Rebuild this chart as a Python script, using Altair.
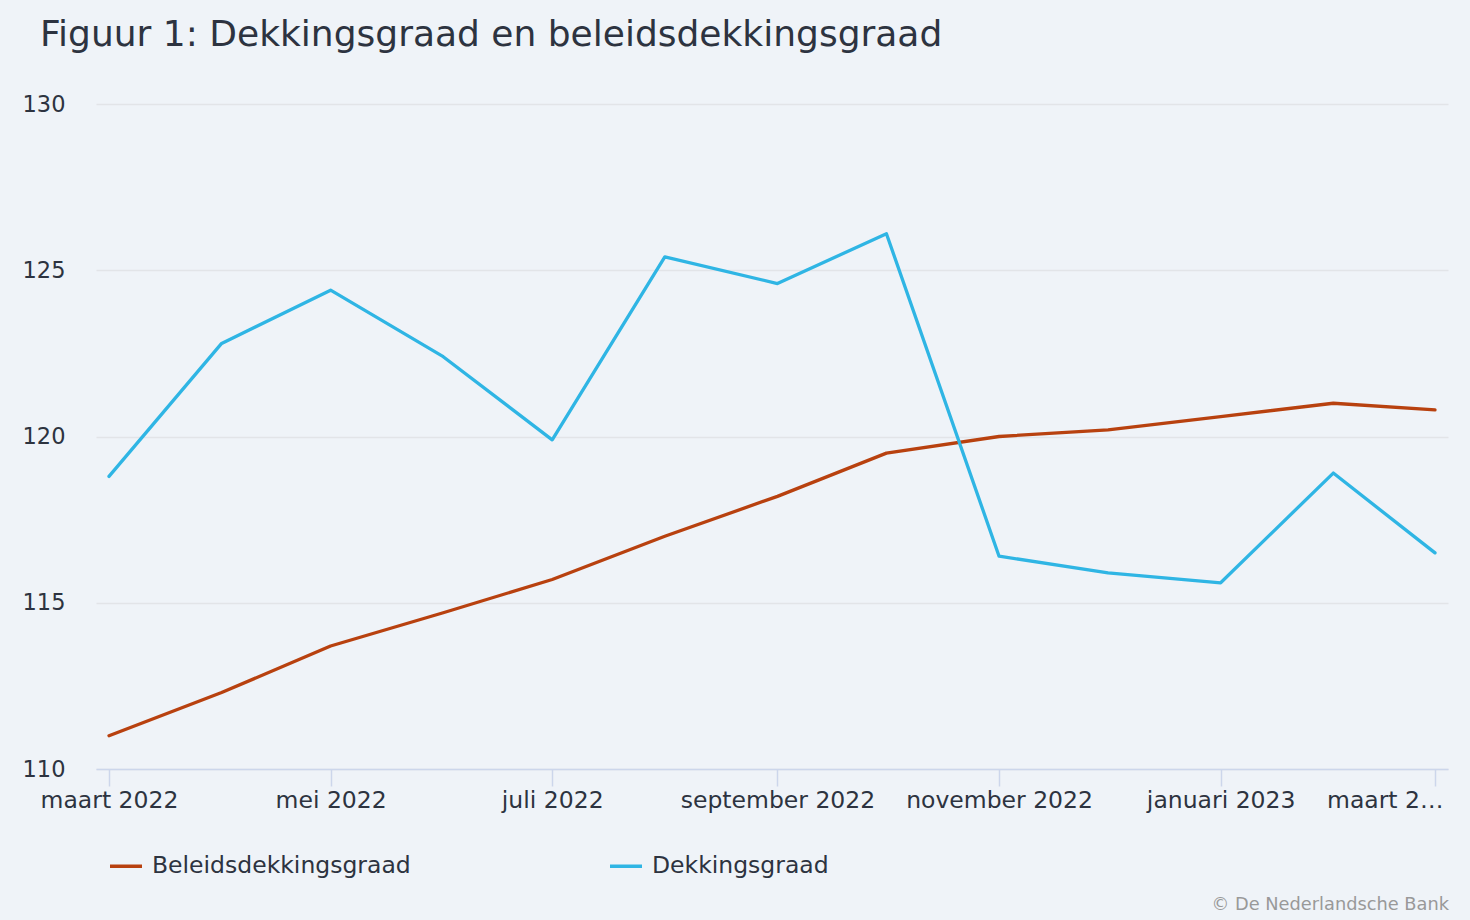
import altair as alt
import pandas as pd

months = ["2022-03-01T00:00", "2022-04-01T00:00", "2022-05-01T00:00", "2022-06-01T00:00",
          "2022-07-01T00:00", "2022-08-01T00:00", "2022-09-01T00:00", "2022-10-01T00:00",
          "2022-11-01T00:00", "2022-12-01T00:00", "2023-01-01T00:00", "2023-02-01T00:00",
          "2023-03-01T00:00"]
beleidsdekkingsgraad = [111.0, 112.3, 113.7, 114.7, 115.7, 117.0, 118.2, 119.5, 120.0, 120.2, 120.6, 121.0, 120.8]
dekkingsgraad = [118.8, 122.8, 124.4, 122.4, 119.9, 125.4, 124.6, 126.1, 116.4, 115.9, 115.6, 118.9, 116.5]
series_names = ["Beleidsdekkingsgraad", "Dekkingsgraad"]
series_colors = ["#b8410f", "#2fb5e4"]
y_ticks = [110, 115, 120, 125, 130]
x_tick_dates = [alt.DateTime(year=2022, month=3, date=1), alt.DateTime(year=2022, month=5, date=1),
                alt.DateTime(year=2022, month=7, date=1), alt.DateTime(year=2022, month=9, date=1),
                alt.DateTime(year=2022, month=11, date=1), alt.DateTime(year=2023, month=1, date=1),
                alt.DateTime(year=2023, month=3, date=1)]
title_text = "Figuur 1: Dekkingsgraad en beleidsdekkingsgraad"
credit_text = "© De Nederlandsche Bank"

rows = []
for m, v in zip(months, beleidsdekkingsgraad):
    rows.append({"maand": m, "waarde": v, "reeks": series_names[0]})
for m, v in zip(months, dekkingsgraad):
    rows.append({"maand": m, "waarde": v, "reeks": series_names[1]})
df = pd.DataFrame(rows)

FONT = "DejaVu Sans"
TEXT = "#2d3340"
W, H = 1352, 665

label_expr = ("datum.value >= datetime(2023, 1, 15) ? 'maart 2…' : "
              "['januari','februari','maart','april','mei','juni','juli','augustus',"
              "'september','oktober','november','december'][month(datum.value)] + ' ' + year(datum.value)")

lines = alt.Chart(df).mark_line(strokeWidth=3.3, strokeJoin="round", strokeCap="round").encode(
    x=alt.X("maand:T",
            scale=alt.Scale(padding=13),
            axis=alt.Axis(values=x_tick_dates, labelExpr=label_expr, title=None, grid=False,
                          domainColor="#ccd6eb", tickColor="#ccd6eb", tickSize=17, tickWidth=1.5,
                          domainWidth=1.5, labelLimit=400,
                          labelPadding=2, labelFontSize=23.5, labelColor=TEXT, labelFont=FONT,
                          labelFlush=False, labelOverlap=False, labelBound=False,
                          labelAlign={"condition": {"test": "datum.value >= datetime(2023, 1, 15)", "value": "right"}, "value": "center"},
                          labelOffset={"condition": {"test": "datum.value >= datetime(2023, 1, 15)", "value": 8}, "value": 0})),
    y=alt.Y("waarde:Q",
            scale=alt.Scale(domain=[110, 130], nice=False, zero=False),
            axis=alt.Axis(values=y_ticks, title=None, domain=False, ticks=False,
                          gridColor="#e2e4e8", gridWidth=1.5,
                          labelPadding=31, labelFontSize=22.5, labelColor=TEXT, labelFont=FONT)),
    color=alt.Color("reeks:N",
                    scale=alt.Scale(domain=series_names, range=series_colors),
                    legend=alt.Legend(title=None, orient="none", legendX=12, legendY=744,
                                      direction="horizontal", columns=2, columnPadding=192,
                                      symbolType="stroke", symbolSize=1024, symbolStrokeWidth=3.5,
                                      labelFontSize=23.5, labelFont=FONT, labelColor=TEXT,
                                      labelOffset=8, padding=0, labelLimit=400)),
)

credit = alt.Chart(pd.DataFrame({"t": [credit_text]})).mark_text(
    align="right", baseline="middle", fontSize=17.8, font=FONT, color="#999999"
).encode(text="t:N", x=alt.value(W + 1), y=alt.value(801))

chart = alt.layer(lines, credit).properties(
    width=W, height=H,
    autosize=alt.AutoSizeParams(type="none"),
    padding={"left": 96, "top": 104, "right": 22, "bottom": 151},
    background="#eff3f8",
    title=alt.TitleParams(title_text, anchor="start", frame="group", dx=-56, offset=11,
                          baseline="alphabetic", fontSize=36, font=FONT, fontWeight="normal",
                          color=TEXT),
).configure_view(stroke=None)

chart.save("out.html", embed_options={"renderer": "svg", "actions": False})
